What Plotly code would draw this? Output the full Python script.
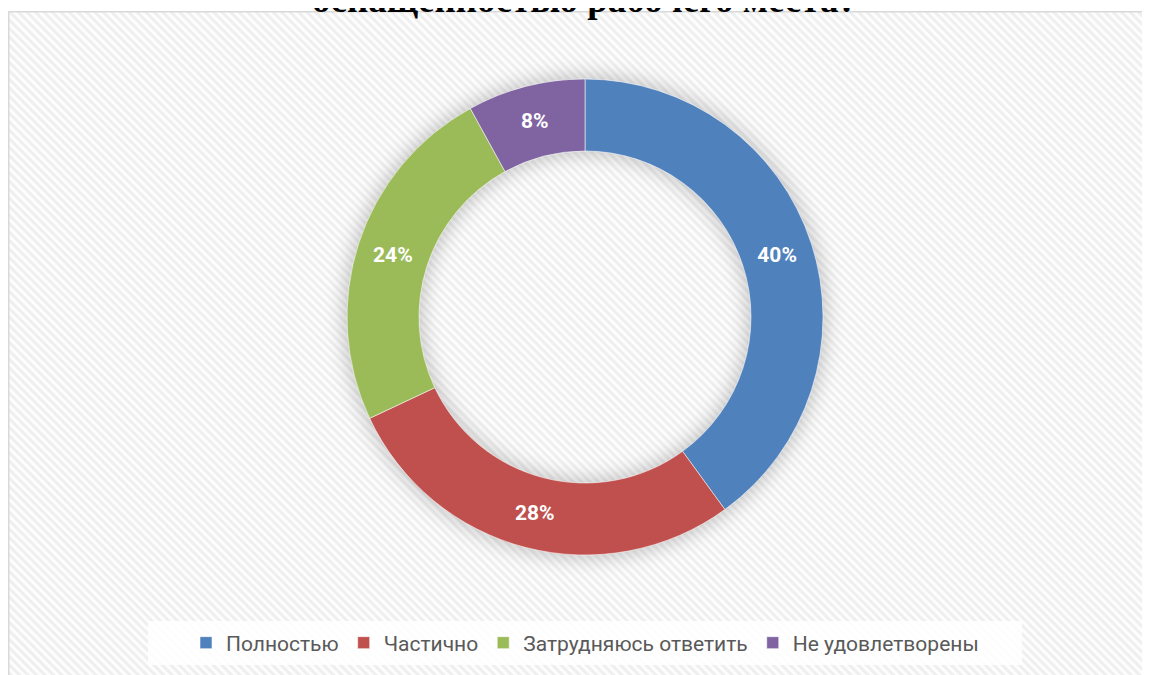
import base64
import plotly.graph_objects as go

# Data
categories = ["Полностью", "Частично", "Затрудняюсь ответить", "Не удовлетворены"]
values = [40, 28, 24, 8]
colors = ["#4F81BD", "#C0504D", "#9BBB59", "#8064A2"]
title_text = "оснащенностью рабочего места?"

W, H = 1142, 667          # page body has an 8px margin
cx, cy, r_out, r_in = 577, 309, 238, 166

# Background: hatched frame + soft shadow around the donut
svg = f'''<svg xmlns="http://www.w3.org/2000/svg" width="{W}" height="{H}" viewBox="0 0 {W} {H}">
<defs>
<pattern id="p" width="6" height="6" patternUnits="userSpaceOnUse" patternTransform="rotate(45)">
<rect width="6" height="6" fill="#FDFDFD"/>
<rect width="6" height="3" fill="#EFEFEF"/>
</pattern>
<filter id="b" x="-50%" y="-50%" width="200%" height="200%"><feGaussianBlur stdDeviation="9"/></filter>
</defs>
<rect x="0" y="0" width="{W}" height="{H}" fill="#FFFFFF"/>
<rect x="0.75" y="3.75" width="{W+10}" height="{H+10}" fill="url(#p)" stroke="#D9D9D9" stroke-width="1.5"/>
<circle cx="{cx}" cy="{cy}" r="{(r_out+r_in)/2}" fill="none" stroke="#000" stroke-opacity="0.2" stroke-width="{r_out-r_in+8}" filter="url(#b)"/>
</svg>'''
src = "data:image/svg+xml;base64," + base64.b64encode(svg.encode("utf-8")).decode("ascii")

fig = go.Figure()
fig.add_trace(go.Pie(
    labels=categories,
    values=values,
    sort=False,
    direction="clockwise",
    rotation=0,
    hole=r_in / r_out,
    marker=dict(colors=colors, line=dict(color="rgba(255,255,255,0.55)", width=1)),
    texttemplate="%{value}%",
    textposition="inside",
    insidetextorientation="horizontal",
    textfont=dict(family="Roboto", size=21, color="white", weight="bold"),
    domain=dict(x=[(cx - r_out) / W, (cx + r_out) / W],
                y=[(H - cy - r_out) / H, (H - cy + r_out) / H]),
    showlegend=True,
    hoverinfo="label+percent",
))

fig.add_layout_image(dict(source=src, xref="paper", yref="paper", x=0, y=1,
                          sizex=1, sizey=1, sizing="stretch", layer="below",
                          xanchor="left", yanchor="top"))

# Legend background box
fig.add_shape(type="rect", xref="paper", yref="paper",
              x0=140 / W, x1=1014 / W, y0=1 - 657 / H, y1=1 - 613 / H,
              fillcolor="rgba(255,255,255,0.85)", line=dict(width=0), layer="below")

# Partially visible title (cut at the top of the page)
fig.add_annotation(text=title_text, xref="paper", yref="paper",
                   x=576 / W, y=1 - 14 / H, xanchor="center", yanchor="bottom",
                   showarrow=False,
                   font=dict(family="Liberation Serif", size=37, color="black", weight="bold"))

fig.update_layout(
    width=W, height=H,
    margin=dict(l=0, r=0, t=0, b=0),
    paper_bgcolor="rgba(0,0,0,0)",
    plot_bgcolor="rgba(0,0,0,0)",
    legend=dict(orientation="h", x=577 / W, xanchor="center", y=1 - 635 / H, yanchor="middle",
                font=dict(family="Roboto", size=21, color="#595959"),
                bgcolor="rgba(0,0,0,0)", itemclick=False, traceorder="normal"),
)

fig.write_html("out.html")
